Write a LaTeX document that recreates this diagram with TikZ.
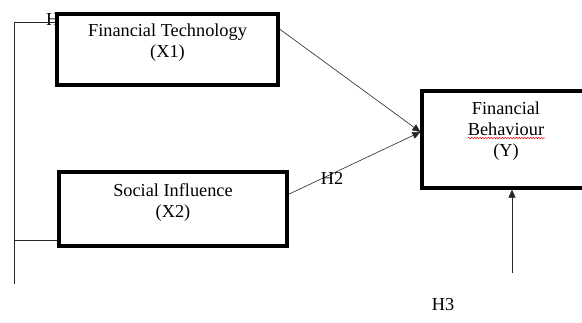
\documentclass[tikz,border=0pt]{standalone}
\usepackage{fontspec}
\setmainfont{Liberation Serif}
\usetikzlibrary{arrows.meta,calc,decorations.pathmorphing}
\tikzset{
  varbox/.style={draw, line width=3.2pt, fill=white, inner sep=0pt},
  vartext/.style={anchor=north, align=center, inner sep=0pt, font=\fontsize{18.3}{21}\selectfont},
  hyp/.style={inner sep=0pt, font=\fontsize{18.3}{21}\selectfont},
  link/.style={draw=black!85, line width=0.6pt, -{Triangle[length=8pt,width=7pt]}},
  bracket/.style={draw=black!85, line width=0.6pt},
  spell/.style={draw=red, line width=0.5pt, decorate, decoration={snake, amplitude=0.7pt, segment length=2.8pt}}
}
\begin{document}
\begin{tikzpicture}[x=1pt,y=1pt]
  \useasboundingbox (0,0) rectangle (582,323);
  % H1 label, partly hidden by the first box
  \node[hyp, anchor=base west] (h1) at (46,297) {H1};
  % Variable boxes
  \node[varbox, minimum width=221pt, minimum height=71pt] (fin) at (167.5,273.5) {};
  \node[varbox, minimum width=228pt, minimum height=74pt] (soc) at (173,114) {};
  \node[varbox, minimum width=168pt, minimum height=97pt] (beh) at (506,183.5) {};
  % Box texts
  \node[vartext] (fintext) at ([yshift=-11pt]fin.north) {Financial Technology\\(X1)};
  \node[vartext] (soctext) at ([yshift=-13pt]soc.north) {Social Influence\\(X2)};
  \node[vartext] (behtext) at ([yshift=-12pt]beh.north) {Financial\\Behaviour\\(Y)};
  \draw[spell] (468,185) -- (545,185);
  % Left bracket
  \coordinate (brtop) at (14,301);
  \coordinate (brmid) at (14,83);
  \coordinate (brbot) at (14,39);
  \draw[bracket] (brtop -| fin.west) -- (brtop) -- (brbot);
  \draw[bracket] (brmid) -- (brmid -| soc.west);
  % Paths into Y
  \coordinate (yin) at ([yshift=7.5pt]beh.west);
  \draw[link] ($(fin.north east)!0.225!(fin.south east)$) -- (yin);
  \draw[link] ($(soc.north east)!0.31!(soc.south east)$) -- (yin);
  \node[hyp] (h2) at (332,144.5) {H2};
  \coordinate (h3src) at (512,50);
  \draw[link] (h3src) -- (h3src |- beh.south);
  \node[hyp] (h3) at (443,18) {H3};
\end{tikzpicture}
\end{document}
